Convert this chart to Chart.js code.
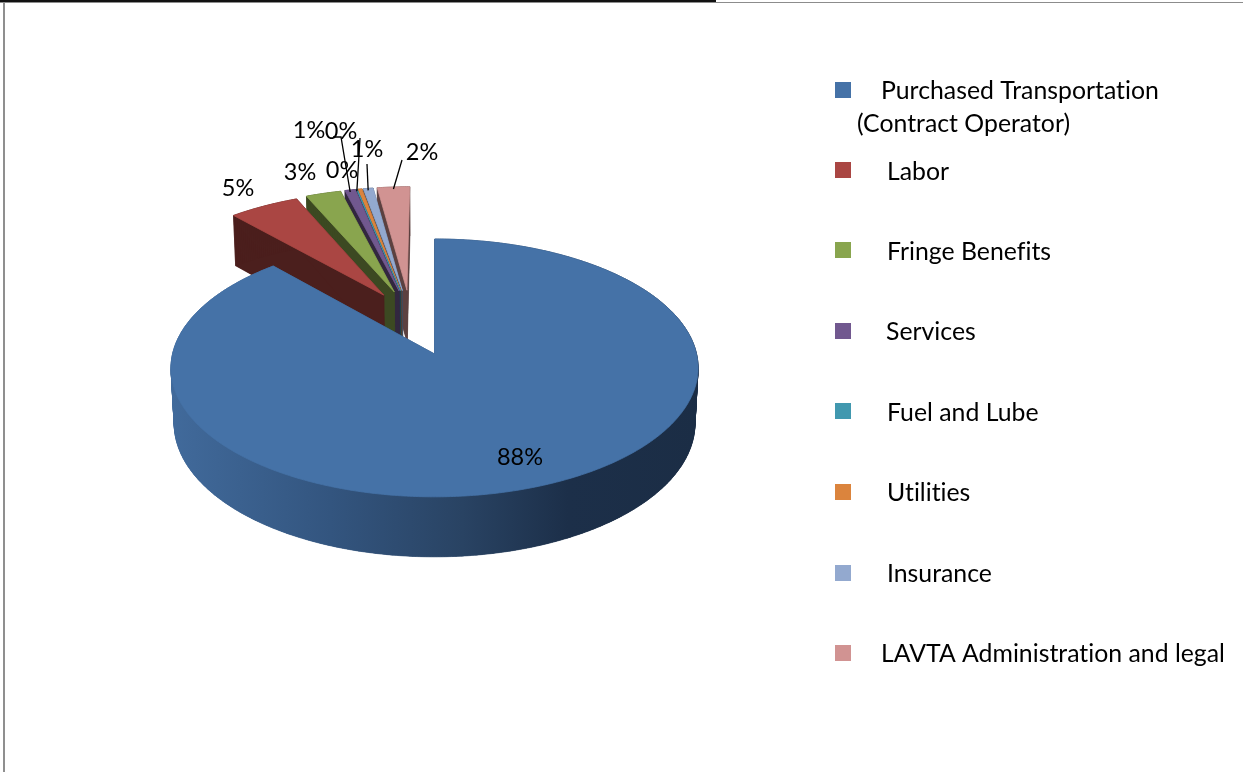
<!DOCTYPE html>
<html>
<head>
<meta charset="utf-8">
<title>Operating cost shares</title>
<style>
  html, body { margin: 0; padding: 0; background: #fff; overflow: hidden; }
  #frame { position: relative; width: 1243px; height: 772px; }
  canvas { position: absolute; left: 0; top: 0; }
  .rule { position: absolute; }
</style>
<script src="https://cdn.jsdelivr.net/npm/chart.js@4/dist/chart.umd.min.js"></script>
</head>
<body>
<div id="frame">
  <canvas id="pie" width="1243" height="772"></canvas>
  <div class="rule" style="left:0;top:0;width:716px;height:2px;background:#111"></div>
  <div class="rule" style="left:0;top:2px;width:1243px;height:1px;background:#8c8c8c"></div>
  <div class="rule" style="left:3px;top:2px;width:2px;height:770px;background:#8f8f8f"></div>
</div>
<script>
// Expense categories and their share of the budget, in percent.
const categories = [
  "Purchased Transportation",
  "Labor",
  "Fringe Benefits",
  "Services",
  "Fuel and Lube",
  "Utilities",
  "Insurance",
  "LAVTA Administration and legal"
];
const shares = [88.4, 5.0, 2.5, 0.75, 0.05, 0.3, 0.7, 2.3];
const sliceColors = ["#4572A7", "#AA4643", "#89A54E", "#71588F", "#4198AF", "#DB843D", "#93A9CF", "#D19392"];

// Where each legend entry and percentage label sits on the page.
const legendRows = [
  { boxY: 90,  lines: [{ text: categories[0], x: 881, y: 91 }, { text: "(Contract Operator)", x: 857, y: 124 }] },
  { boxY: 170, lines: [{ text: categories[1], x: 887, y: 172 }] },
  { boxY: 250, lines: [{ text: categories[2], x: 887, y: 252 }] },
  { boxY: 331, lines: [{ text: categories[3], x: 886, y: 332 }] },
  { boxY: 411, lines: [{ text: categories[4], x: 887, y: 413 }] },
  { boxY: 492, lines: [{ text: categories[5], x: 887, y: 493 }] },
  { boxY: 573, lines: [{ text: categories[6], x: 887, y: 574 }] },
  { boxY: 653, lines: [{ text: categories[7], x: 881, y: 654 }] }
];
const labelSpots = [[520, 457], [238, 188], [300, 172], [309, 130], [341, 131], [342, 170], [367, 149], [422, 152]];
// Leader lines run from these points down to the rim of their slice.
const leaderStarts = [null, null, null, [[333, 137], [341, 137]], [[360, 138]], null, [[367, 164]], [[402, 160]]];

const LABEL_FONT = '23.5px Lato, "Open Sans", sans-serif';
const LEGEND_FONT = '24.8px Lato, "Open Sans", sans-serif';

// Perspective view of the tilted pie plane.
const view = {
  originX: 436.5, originY: 354,
  radiusX: 262, radiusY: 127.4,
  tilt: 0.108,
  depth: 56, depthShrink: 0.012,
  pieU: -0.105, pieV: 0.256,
  rearSideways: 0.72
};

function project(u, v, lower) {
  const pu = u + view.pieU, pv = v + view.pieV;
  const w = 1 + view.tilt * pv + (lower ? view.depthShrink : 0);
  return [
    view.originX + view.radiusX * pu / w,
    view.originY + (lower ? view.depth / w : 0) - view.radiusY * pv / w
  ];
}

// Outline of one arc element on the pie plane, offset along its mid angle.
function sliceOutline(arc) {
  const mid = (arc.startAngle + arc.endAngle) / 2;
  const shift = arc.options.offset / arc.outerRadius;
  const apex = { u: shift * Math.cos(mid), v: -shift * Math.sin(mid) };
  // Slices pulled towards the back drift less to the side.
  if (apex.v > 0) apex.u *= view.rearSideways;
  const rim = [];
  const steps = Math.max(2, Math.ceil((arc.endAngle - arc.startAngle) / 0.01));
  for (let i = 0; i <= steps; i++) {
    const a = arc.startAngle + (arc.endAngle - arc.startAngle) * i / steps;
    rim.push({ u: apex.u + Math.cos(a), v: apex.v - Math.sin(a) });
  }
  return { apex, rim, mid };
}

function tracePolygon(ctx, pts) {
  ctx.beginPath();
  pts.forEach((p, i) => (i ? ctx.lineTo(p[0], p[1]) : ctx.moveTo(p[0], p[1])));
  ctx.closePath();
}

function darker(hex, f) {
  const n = parseInt(hex.slice(1), 16);
  return `rgb(${Math.round((n >> 16) * f)},${Math.round(((n >> 8) & 255) * f)},${Math.round((n & 255) * f)})`;
}

function drawSlice(ctx, arc, color, isMain) {
  const { apex, rim } = sliceOutline(arc);
  const top = [apex, ...rim].map(p => project(p.u, p.v, false));
  const low = [apex, ...rim].map(p => project(p.u, p.v, true));

  let wall = darker(color, 0.44);
  if (isMain) {
    const g = ctx.createLinearGradient(172, 0, 700, 0);
    g.addColorStop(0, "#416a9b");
    g.addColorStop(0.3, "#33557f");
    g.addColorStop(0.55, "#294363");
    g.addColorStop(0.75, "#1c2f49");
    g.addColorStop(1, "#1b2d45");
    wall = g;
  }
  ctx.fillStyle = wall;
  ctx.strokeStyle = wall;
  ctx.lineWidth = 0.6;
  tracePolygon(ctx, low);
  ctx.fill();
  for (let i = 0; i < top.length; i++) {
    const j = (i + 1) % top.length;
    tracePolygon(ctx, [top[i], top[j], low[j], low[i]]);
    ctx.fill();
    ctx.stroke();
  }
  ctx.fillStyle = color;
  ctx.strokeStyle = color;
  ctx.lineWidth = 0.8;
  tracePolygon(ctx, top);
  ctx.fill();
  ctx.stroke();
}

const tiltedPie = {
  id: "tiltedPie",
  beforeDatasetsDraw(chart) {
    const ctx = chart.ctx;
    const arcs = chart.getDatasetMeta(0).data;
    const colors = chart.data.datasets[0].backgroundColor;
    ctx.save();
    // Back slices first, the large front slice last.
    for (let i = arcs.length - 1; i >= 0; i--) {
      drawSlice(ctx, arcs[i], colors[i], i === 0);
    }
    ctx.restore();
    return false;
  },
  afterDraw(chart) {
    const ctx = chart.ctx;
    const arcs = chart.getDatasetMeta(0).data;
    const values = chart.data.datasets[0].data;
    const colors = chart.data.datasets[0].backgroundColor;
    const total = values.reduce((a, b) => a + b, 0);
    ctx.save();
    // A hair of tracking keeps the letters from joining into ligatures.
    ctx.letterSpacing = "0.01px";

    // Leader lines
    ctx.strokeStyle = "#000";
    ctx.lineWidth = 1.3;
    arcs.forEach((arc, i) => {
      if (!leaderStarts[i]) return;
      const o = sliceOutline(arc);
      const rimPoint = project(o.apex.u + Math.cos(o.mid), o.apex.v - Math.sin(o.mid), false);
      ctx.beginPath();
      leaderStarts[i].forEach((p, k) => (k ? ctx.lineTo(p[0], p[1]) : ctx.moveTo(p[0], p[1])));
      ctx.lineTo(rimPoint[0], rimPoint[1] + 2);
      ctx.stroke();
    });

    // Percentage labels
    ctx.fillStyle = "#000";
    ctx.font = LABEL_FONT;
    ctx.textAlign = "center";
    ctx.textBaseline = "middle";
    values.forEach((v, i) => {
      ctx.fillText(Math.round(v / total * 100) + "%", labelSpots[i][0], labelSpots[i][1]);
    });

    // Legend
    ctx.font = LEGEND_FONT;
    ctx.textAlign = "left";
    legendRows.forEach((row, i) => {
      ctx.fillStyle = colors[i];
      ctx.fillRect(835, row.boxY - 8, 16, 16);
      ctx.fillStyle = "#000";
      row.lines.forEach(l => ctx.fillText(l.text, l.x, l.y));
    });
    ctx.restore();
  }
};

new Chart(document.getElementById("pie"), {
  type: "pie",
  data: {
    labels: categories,
    datasets: [{
      data: shares,
      backgroundColor: sliceColors,
      borderWidth: 0,
      offset: 93
    }]
  },
  options: {
    responsive: false,
    animation: false,
    events: [],
    plugins: { legend: { display: false }, tooltip: { enabled: false } }
  },
  plugins: [tiltedPie]
});
</script>
</body>
</html>
